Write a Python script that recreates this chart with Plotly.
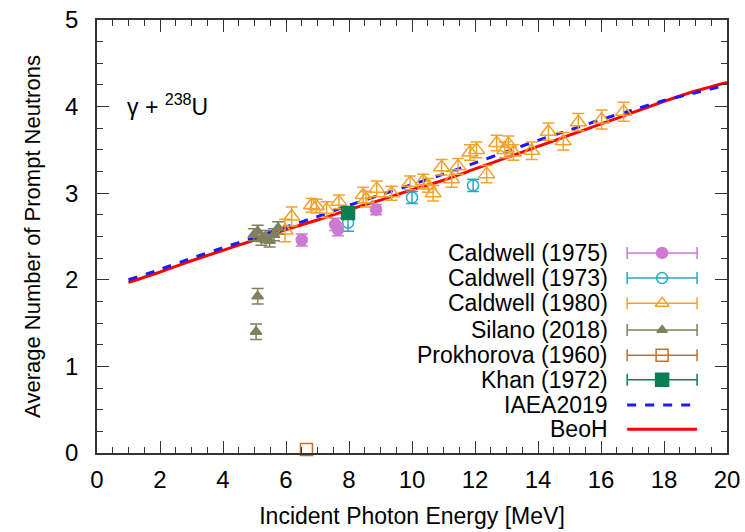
import plotly.graph_objects as go

# ---------------- data ----------------
beoh_x = [1, 2, 3, 4, 5, 6, 7, 8, 9, 10, 11, 12, 13, 14, 15, 16, 17, 18, 19, 20]
beoh_y = [1.97, 2.09, 2.22, 2.34, 2.46, 2.58, 2.69, 2.81, 2.92, 3.04, 3.15, 3.28,
          3.41, 3.54, 3.67, 3.80, 3.93, 4.06, 4.18, 4.28]
iaea_x = [1, 2, 3, 4, 5, 6, 7, 8, 9, 10, 11, 12, 13, 14, 15, 16, 17, 18, 19, 20]
iaea_y = [2.00, 2.12, 2.25, 2.37, 2.49, 2.61, 2.73, 2.86, 2.98, 3.10, 3.22, 3.35,
          3.48, 3.61, 3.73, 3.85, 3.96, 4.07, 4.16, 4.25]

cald75_x = [6.50, 7.56, 7.65, 8.86]
cald75_y = [2.46, 2.64, 2.58, 2.81]
cald75_e = [0.07, 0.07, 0.07, 0.06]

cald73_x = [7.97, 10.00, 11.94]
cald73_y = [2.66, 2.95, 3.09]
cald73_e = [0.10, 0.07, 0.07]

cald80_x = [5.97, 6.18, 6.81, 6.97, 7.29, 7.68, 8.45, 8.54, 8.88, 9.35, 9.94, 10.36,
            10.51, 10.67, 10.94, 11.26, 11.46, 11.84, 12.05, 12.37, 12.69, 12.95,
            13.06, 13.22, 13.80, 14.33, 14.80, 15.28, 16.02, 16.72]
cald80_y = [2.57, 2.73, 2.86, 2.85, 2.81, 2.90, 2.98, 2.93, 3.05, 3.00, 3.12, 3.14,
            3.09, 3.00, 3.30, 3.16, 3.31, 3.47, 3.50, 3.22, 3.58, 3.50, 3.57, 3.47,
            3.49, 3.71, 3.60, 3.82, 3.85, 3.94]
cald80_e = [0.13, 0.11, 0.08, 0.08, 0.09, 0.08, 0.09, 0.09, 0.09, 0.08, 0.08, 0.08,
            0.08, 0.09, 0.09, 0.09, 0.09, 0.09, 0.09, 0.10, 0.09, 0.09, 0.09, 0.09,
            0.10, 0.10, 0.10, 0.10, 0.11, 0.11]

silano_x = [4.98, 5.10, 5.22, 5.35, 5.48, 5.62, 5.75, 5.10, 5.05]
silano_y = [2.52, 2.56, 2.47, 2.50, 2.45, 2.52, 2.60, 1.81, 1.40]
silano_e = [0.07, 0.07, 0.07, 0.07, 0.07, 0.07, 0.07, 0.09, 0.09]

prok_x = [6.65]
prok_y = [0.04]

khan_x = [7.97]
khan_y = [2.77]

legend_labels = ["Caldwell (1975)", "Caldwell (1973)", "Caldwell (1980)", "Silano (2018)",
                 "Prokhorova (1960)", "Khan (1972)", "IAEA2019", "BeoH"]

# ---------------- styles ----------------
FONT = "Liberation Sans, Arial, Helvetica, sans-serif"
C75 = "#cc7ad4"
C73 = "#2aa7c4"
C80 = "#f2a32e"
CSI = "#80805f"
CPR = "#c4702a"
CKH = "#0a7f55"
CIA = "#1a1aff"
CBE = "#ff0000"

fig = go.Figure()

fig.add_trace(go.Scatter(x=beoh_x, y=beoh_y, mode="lines",
                         line=dict(color=CBE, width=3, shape="spline", smoothing=0.6),
                         showlegend=False))
fig.add_trace(go.Scatter(x=iaea_x, y=iaea_y, mode="lines",
                         line=dict(color=CIA, width=3, dash="dash", shape="spline", smoothing=0.6),
                         showlegend=False))


def add_pts(x, y, e, color, symbol, size, lw=1.5):
    fig.add_trace(go.Scatter(
        x=x, y=y, mode="markers", showlegend=False, cliponaxis=False,
        marker=dict(symbol=symbol, size=size, color=color,
                    line=dict(color=color, width=lw)),
        error_y=(dict(type="data", array=e, visible=True, color=color,
                      thickness=1.5, width=6) if e is not None else None)))


add_pts(cald80_x, cald80_y, cald80_e, C80, "triangle-up-open", 14)
add_pts(cald73_x, cald73_y, cald73_e, C73, "circle-open", 11)
add_pts(cald75_x, cald75_y, cald75_e, C75, "circle", 11)
add_pts(silano_x, silano_y, silano_e, CSI, "triangle-up", 10)
add_pts(prok_x, prok_y, None, CPR, "square-open", 12)
add_pts(khan_x, khan_y, None, CKH, "square", 13)

# ---------------- custom legend (overlay axes in paper units) ----------------
leg_rows = [0.462, 0.404, 0.346, 0.284, 0.226, 0.169, 0.111, 0.055]
leg_xc = 0.897
leg_half = 0.0555
leg_text_x = 0.814
leg_styles = [
    (C75, "circle", 11), (C73, "circle-open", 11), (C80, "triangle-up-open", 12),
    (CSI, "triangle-up", 9), (CPR, "square-open", 12), (CKH, "square", 13),
]
for (color, sym, sz), ry in zip(leg_styles, leg_rows[:6]):
    fig.add_trace(go.Scatter(
        x=[leg_xc], y=[ry], xaxis="x2", yaxis="y2", mode="markers", showlegend=False,
        marker=dict(symbol=sym, size=sz, color=color, line=dict(color=color, width=1.5)),
        error_x=dict(type="constant", value=leg_half, color=color, thickness=1.5, width=6)))
fig.add_trace(go.Scatter(
    x=[leg_xc - leg_half, leg_xc + leg_half], y=[leg_rows[6]] * 2, xaxis="x2", yaxis="y2",
    mode="lines", showlegend=False, line=dict(color=CIA, width=3, dash="dash")))
fig.add_trace(go.Scatter(
    x=[leg_xc - leg_half, leg_xc + leg_half], y=[leg_rows[7]] * 2, xaxis="x2", yaxis="y2",
    mode="lines", showlegend=False, line=dict(color=CBE, width=3)))

annotations = []
for lab, ry in zip(legend_labels, leg_rows):
    annotations.append(dict(text=lab, x=leg_text_x, y=ry, xref="paper", yref="paper",
                            xanchor="right", yanchor="middle", showarrow=False,
                            font=dict(family=FONT, size=23, color="black")))
annotations.append(dict(text="γ + <sup>238</sup>U", x=0.9, y=4.02, xref="x", yref="y",
                        xanchor="left", yanchor="middle", showarrow=False,
                        font=dict(family=FONT, size=23, color="black")))

axis_common = dict(
    showgrid=False, zeroline=False, showline=True, linecolor="#333333", linewidth=1.5,
    mirror="allticks", ticks="inside", ticklen=12, tickwidth=1.2, tickcolor="#333333",
    tickfont=dict(family=FONT, size=24, color="black"), automargin=False,
)

fig.update_layout(
    width=745, height=532,
    margin=dict(l=97, r=18, t=20, b=79),
    plot_bgcolor="white", paper_bgcolor="white",
    showlegend=False,
    font=dict(family=FONT, color="black"),
    xaxis=dict(range=[0, 20], dtick=2, tick0=0,
               minor=dict(dtick=0.5, ticks="inside", ticklen=6, tickcolor="#333333", tickwidth=1.2),
               title=dict(text="Incident Photon Energy [MeV]", standoff=16,
                          font=dict(family=FONT, size=23, color="black")),
               ticklabelstandoff=4,
               **axis_common),
    yaxis=dict(range=[0, 5], dtick=1, tick0=0,
               minor=dict(dtick=0.25, ticks="inside", ticklen=6, tickcolor="#333333", tickwidth=1.2),
               title=dict(text="Average Number of Prompt Neutrons", standoff=18,
                          font=dict(family=FONT, size=22, color="black")),
               ticklabelstandoff=12,
               **axis_common),
    xaxis2=dict(range=[0, 1], overlaying="x", visible=False, fixedrange=True, automargin=False),
    yaxis2=dict(range=[0, 1], overlaying="y", visible=False, fixedrange=True, automargin=False),
    annotations=annotations,
)

fig.write_html("out.html")
